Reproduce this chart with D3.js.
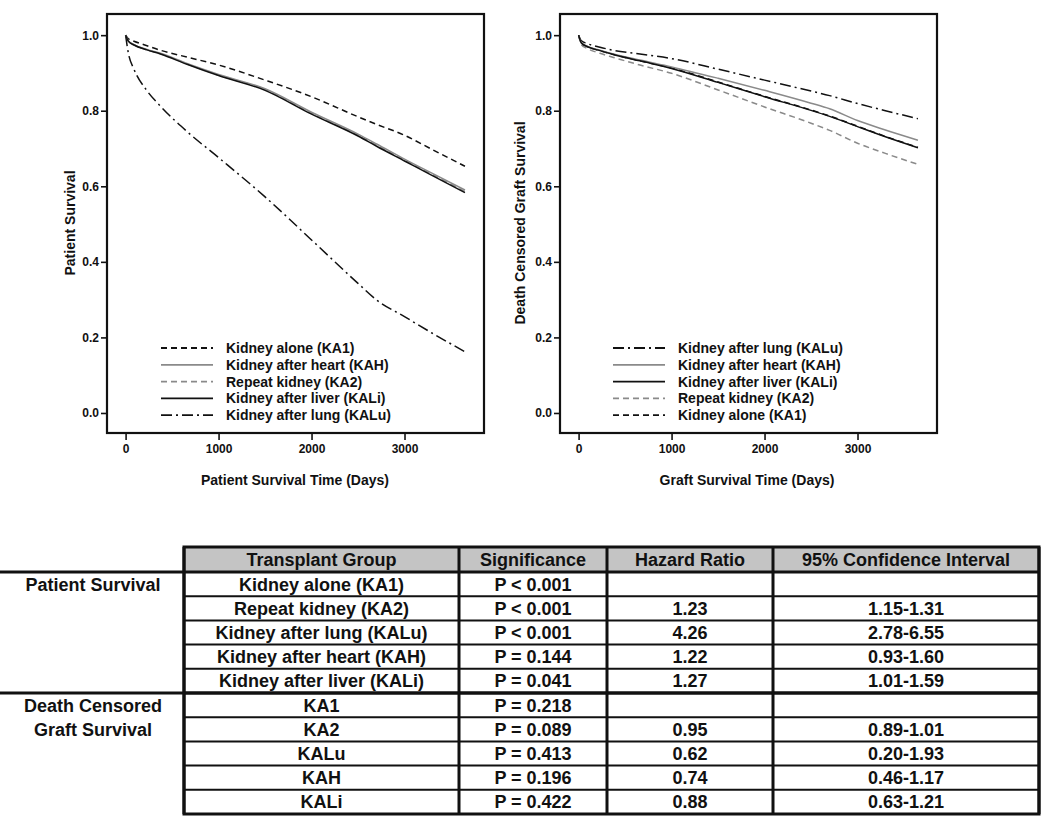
<!DOCTYPE html>
<html>
<head>
<meta charset="utf-8">
<script src="https://cdn.jsdelivr.net/npm/d3@7"></script>
<style>
  body { margin: 0; background: #fff; }
  svg { display: block; font-family: "Liberation Sans", Arial, sans-serif; font-weight: bold; }
</style>
</head>
<body>
<div id="chart-area"></div>
<script>
// ---- data ----
var days = [0, 30, 90, 230, 375, 660, 1000, 1500, 2000, 2500, 2700, 3000, 3300, 3650];

// patient survival
var patKA1  = [1.0, 0.990, 0.984, 0.972, 0.960, 0.942, 0.921, 0.881, 0.837, 0.784, 0.764, 0.735, 0.697, 0.653];
var patKAH  = [1.0, 0.985, 0.975, 0.962, 0.952, 0.925, 0.896, 0.858, 0.796, 0.738, 0.712, 0.672, 0.634, 0.590];
var patKA2  = [1.0, 0.985, 0.975, 0.961, 0.951, 0.924, 0.894, 0.856, 0.793, 0.735, 0.709, 0.669, 0.631, 0.586];
var patKALi = [1.0, 0.984, 0.974, 0.961, 0.950, 0.923, 0.893, 0.854, 0.791, 0.733, 0.706, 0.667, 0.628, 0.583];
var patKALu = [1.0, 0.952, 0.910, 0.853, 0.812, 0.745, 0.676, 0.572, 0.458, 0.343, 0.299, 0.255, 0.211, 0.162];

// death censored graft survival
var grfKALu = [1.0, 0.985, 0.978, 0.968, 0.960, 0.950, 0.938, 0.910, 0.881, 0.852, 0.840, 0.819, 0.800, 0.779];
var grfKAH  = [1.0, 0.980, 0.971, 0.960, 0.950, 0.934, 0.916, 0.886, 0.854, 0.820, 0.805, 0.774, 0.749, 0.722];
var grfKA1  = [1.0, 0.979, 0.970, 0.959, 0.949, 0.932, 0.913, 0.876, 0.838, 0.802, 0.786, 0.759, 0.732, 0.703];
var grfKALi = [1.0, 0.979, 0.970, 0.959, 0.949, 0.932, 0.912, 0.875, 0.837, 0.801, 0.785, 0.758, 0.731, 0.702];
var grfKA2  = [1.0, 0.975, 0.965, 0.952, 0.941, 0.921, 0.899, 0.855, 0.810, 0.767, 0.748, 0.714, 0.687, 0.658];

var xTicks = [0, 1000, 2000, 3000];
var yTicks = [0, 0.2, 0.4, 0.6, 0.8, 1.0];

// table
var tableHeader = ["Transplant Group", "Significance", "Hazard Ratio", "95% Confidence Interval"];
var sections = ["Patient Survival", "Death Censored|Graft Survival"];
var groups = ["Kidney alone (KA1)", "Repeat kidney (KA2)", "Kidney after lung (KALu)", "Kidney after heart (KAH)", "Kidney after liver (KALi)",
              "KA1", "KA2", "KALu", "KAH", "KALi"];
var significance = ["P < 0.001", "P < 0.001", "P < 0.001", "P = 0.144", "P = 0.041",
                    "P = 0.218", "P = 0.089", "P = 0.413", "P = 0.196", "P = 0.422"];
var hazardRatio = ["", "1.23", "4.26", "1.22", "1.27", "", "0.95", "0.62", "0.74", "0.88"];
var confInterval = ["", "1.15-1.31", "2.78-6.55", "0.93-1.60", "1.01-1.59",
                    "", "0.89-1.01", "0.20-1.93", "0.46-1.17", "0.63-1.21"];

// line styles
var styles = {
    KA1:  { color: "#111", dash: "6,4" },
    KA2:  { color: "#8a8a8a", dash: "6,4" },
    KAH:  { color: "#8a8a8a", dash: null },
    KALi: { color: "#111", dash: null },
    KALu: { color: "#111", dash: "11,4,2,4" }
};

var svg = d3.select("#chart-area").append("svg")
    .attr("width", 1050)
    .attr("height", 818);

function drawPanel(opts) {
    var left = opts.left, top = 14, w = 377, h = 419;

    var x = d3.scaleLinear().domain([-200, 3855]).range([left, left + w]);
    var y = d3.scaleLinear().domain([-0.053, 1.056]).range([top + h, top]);

    var g = svg.append("g");

    // curves
    var line = d3.line()
        .x(function(d) { return x(d[0]); })
        .y(function(d) { return y(d[1]); })
        .curve(d3.curveMonotoneX);

    opts.drawOrder.forEach(function(s) {
        var pts = days.map(function(d, i) { return [d, s.values[i]]; });
        g.append("path")
            .attr("d", line(pts))
            .attr("fill", "none")
            .attr("stroke", styles[s.key].color)
            .attr("stroke-width", 1.5)
            .attr("stroke-dasharray", styles[s.key].dash);
    });

    // frame
    g.append("rect")
        .attr("x", left).attr("y", top)
        .attr("width", w).attr("height", h)
        .attr("fill", "none")
        .attr("stroke", "#111")
        .attr("stroke-width", 2.2);

    // axes
    var xAxis = g.append("g")
        .attr("transform", "translate(0," + (top + h) + ")")
        .call(d3.axisBottom(x).tickValues(xTicks).tickSize(7).tickPadding(4).tickFormat(d3.format("d")));
    var yAxis = g.append("g")
        .attr("transform", "translate(" + left + ",0)")
        .call(d3.axisLeft(y).tickValues(yTicks).tickSize(6).tickPadding(2).tickFormat(d3.format(".1f")));
    [xAxis, yAxis].forEach(function(a) {
        a.select(".domain").remove();
        a.selectAll("line").attr("stroke", "#111").attr("stroke-width", 1.6);
        a.selectAll("text")
            .attr("fill", "#111")
            .style("font-family", "'Liberation Sans', Arial, sans-serif")
            .style("font-weight", "bold")
            .style("font-size", "12px");
    });

    // axis titles
    g.append("text")
        .attr("x", opts.xTitleX)
        .attr("y", 485)
        .attr("text-anchor", "middle")
        .attr("font-size", "14px")
        .attr("fill", "#111")
        .text(opts.xTitle);
    g.append("text")
        .attr("transform", "rotate(-90)")
        .attr("x", -223)
        .attr("y", opts.yTitleX)
        .attr("text-anchor", "middle")
        .attr("font-size", "14px")
        .attr("fill", "#111")
        .text(opts.yTitle);

    // legend
    var legend = g.append("g")
        .attr("transform", "translate(" + opts.legendX + ",348)");
    opts.legendOrder.forEach(function(s, i) {
        var row = legend.append("g")
            .attr("transform", "translate(0," + (i * 16.8) + ")");
        row.append("line")
            .attr("x1", 0).attr("x2", 52)
            .attr("y1", 0).attr("y2", 0)
            .attr("stroke", styles[s.key].color)
            .attr("stroke-width", 1.8)
            .attr("stroke-dasharray", styles[s.key].dash);
        row.append("text")
            .attr("x", 65)
            .attr("y", 5)
            .attr("font-size", "14px")
            .attr("fill", "#111")
            .text(s.label);
    });
}

var labels = {
    KA1: "Kidney alone (KA1)", KAH: "Kidney after heart (KAH)", KA2: "Repeat kidney (KA2)",
    KALi: "Kidney after liver (KALi)", KALu: "Kidney after lung (KALu)"
};
function ser(key, values) { return { key: key, values: values, label: labels[key] }; }

// left panel
var pKA1 = ser("KA1", patKA1), pKAH = ser("KAH", patKAH), pKA2 = ser("KA2", patKA2),
    pKALi = ser("KALi", patKALi), pKALu = ser("KALu", patKALu);
drawPanel({
    left: 107,
    drawOrder: [pKA2, pKALu, pKA1, pKAH, pKALi],
    legendOrder: [pKA1, pKAH, pKA2, pKALi, pKALu],
    legendX: 161,
    xTitle: "Patient Survival Time (Days)", xTitleX: 295,
    yTitle: "Patient Survival", yTitleX: 75
});

// right panel
var gKALu = ser("KALu", grfKALu), gKAH = ser("KAH", grfKAH), gKA1 = ser("KA1", grfKA1),
    gKALi = ser("KALi", grfKALi), gKA2 = ser("KA2", grfKA2);
drawPanel({
    left: 560,
    drawOrder: [gKA1, gKA2, gKALu, gKAH, gKALi],
    legendOrder: [gKALu, gKAH, gKALi, gKA2, gKA1],
    legendX: 613,
    xTitle: "Graft Survival Time (Days)", xTitleX: 747,
    yTitle: "Death Censored Graft Survival", yTitleX: 525
});

// ---- table ----
var colEdges = [184, 459, 607, 773, 1039];
var tableTop = 547, headerBottom = 572;
var rowY = d3.scaleLinear().domain([0, groups.length]).range([headerBottom, 814]);
var tg = svg.append("g").attr("class", "table");

// header fill
tg.append("rect")
    .attr("x", colEdges[0]).attr("y", tableTop)
    .attr("width", colEdges[4] - colEdges[0])
    .attr("height", headerBottom - tableTop)
    .attr("fill", "#c4c4c4");

// row lines
d3.range(1, groups.length).forEach(function(i) {
    tg.append("line")
        .attr("x1", colEdges[0]).attr("x2", colEdges[4])
        .attr("y1", rowY(i)).attr("y2", rowY(i))
        .attr("stroke", "#111")
        .attr("stroke-width", i === 5 ? 3 : 2);
});
// header bottom and section lines reaching the left margin
[headerBottom, rowY(5)].forEach(function(yy) {
    tg.append("line")
        .attr("x1", 0).attr("x2", colEdges[4])
        .attr("y1", yy).attr("y2", yy)
        .attr("stroke", "#111")
        .attr("stroke-width", 3);
});
// column lines
colEdges.forEach(function(cx) {
    tg.append("line")
        .attr("x1", cx).attr("x2", cx)
        .attr("y1", tableTop).attr("y2", rowY(groups.length))
        .attr("stroke", "#111")
        .attr("stroke-width", 3);
});
tg.append("rect")
    .attr("x", colEdges[0]).attr("y", tableTop)
    .attr("width", colEdges[4] - colEdges[0])
    .attr("height", rowY(groups.length) - tableTop)
    .attr("fill", "none")
    .attr("stroke", "#111")
    .attr("stroke-width", 3);

function colCenter(c) { return (colEdges[c] + colEdges[c + 1]) / 2; }

tableHeader.forEach(function(t, c) {
    tg.append("text")
        .attr("x", colCenter(c))
        .attr("y", (tableTop + headerBottom) / 2 + 6.5)
        .attr("text-anchor", "middle")
        .attr("font-size", "18px")
        .attr("fill", "#111")
        .text(t);
});

var cols = [groups, significance, hazardRatio, confInterval];
cols.forEach(function(col, c) {
    col.forEach(function(t, i) {
        tg.append("text")
            .attr("x", colCenter(c))
            .attr("y", (rowY(i) + rowY(i + 1)) / 2 + 6.5)
            .attr("text-anchor", "middle")
            .attr("font-size", "18px")
            .attr("fill", "#111")
            .text(t);
    });
});

// section labels
sections.forEach(function(s, k) {
    s.split("|").forEach(function(part, j) {
        var r = k * 5 + j;
        tg.append("text")
            .attr("x", 93)
            .attr("y", (rowY(r) + rowY(r + 1)) / 2 + 6.5)
            .attr("text-anchor", "middle")
            .attr("font-size", "18px")
            .attr("fill", "#111")
            .text(part);
    });
});
</script>
</body>
</html>
